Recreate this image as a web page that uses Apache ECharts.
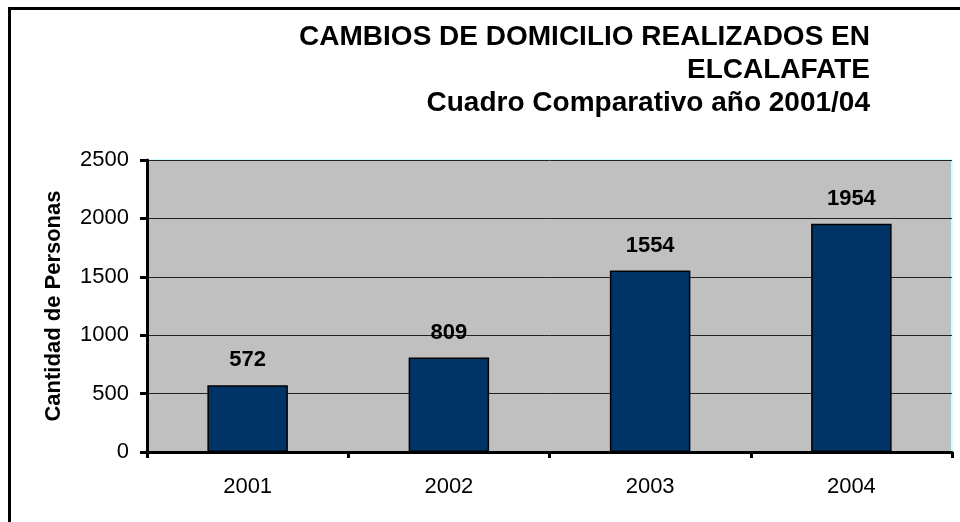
<!DOCTYPE html>
<html>
<head>
<meta charset="utf-8">
<script src="https://cdn.jsdelivr.net/npm/echarts@6/dist/echarts.min.js"></script>
<style>
  html, body { margin: 0; padding: 0; background: #fff; }
  #chart { width: 960px; height: 522px; }
</style>
</head>
<body>
<div id="chart"></div>
<script>
const years = ['2001', '2002', '2003', '2004'];
const personas = [572, 809, 1554, 1954];
const titleLines = ['CAMBIOS DE DOMICILIO REALIZADOS EN', 'ELCALAFATE', 'Cuadro Comparativo año 2001/04'];

const font = 'Liberation Sans, Arial, sans-serif';

// title lines are right aligned, so they are drawn as graphic texts
const titleTexts = titleLines.map((t, i) => ({
  type: 'text',
  right: 90,
  top: 23 + i * 33,
  silent: true,
  style: {
    text: t,
    fill: '#000',
    font: 'bold 28px ' + font
  }
}));

const chart = echarts.init(document.getElementById('chart'));
chart.setOption({
  animation: false,
  backgroundColor: '#ffffff',
  graphic: [{
    type: 'rect',
    shape: { x: 9.5, y: 8.5, width: 1000, height: 1000 },
    style: { fill: 'none', stroke: '#000', lineWidth: 3 },
    silent: true
  }].concat(titleTexts),
  grid: {
    left: 147, right: 8, top: 160, bottom: 70,
    show: true,
    backgroundColor: '#C0C0C0',
    borderColor: '#CCFFFF',
    borderWidth: 2
  },
  xAxis: {
    type: 'category',
    data: years,
    boundaryGap: true,
    axisLine: { lineStyle: { color: '#000', width: 3 } },
    axisTick: { show: true, length: 6, lineStyle: { color: '#000', width: 3 } },
    axisLabel: {
      margin: 24,
      color: '#000',
      fontSize: 22,
      fontFamily: font
    }
  },
  yAxis: {
    type: 'value',
    min: 0, max: 2500, interval: 500,
    name: 'Cantidad de Personas',
    nameLocation: 'middle',
    nameGap: 82,
    nameTextStyle: {
      fontFamily: font,
      fontSize: 22,
      fontWeight: 'bold',
      color: '#000'
    },
    axisLine: { show: true, lineStyle: { color: '#000', width: 3 } },
    axisTick: { show: true, length: 7, lineStyle: { color: '#000', width: 3 } },
    axisLabel: {
      margin: 18,
      color: '#000',
      fontSize: 22,
      fontFamily: font,
      formatter: v => String(v)
    },
    splitLine: { show: true, lineStyle: { color: '#222', width: 1 } }
  },
  series: [{
    type: 'bar',
    data: personas,
    barWidth: '40%',
    itemStyle: { color: '#003366', borderColor: '#000', borderWidth: 1.5 },
    label: {
      show: true,
      position: 'top',
      distance: 14,
      color: '#000',
      fontSize: 22,
      fontWeight: 'bold',
      fontFamily: font
    }
  }]
});
</script>
</body>
</html>
